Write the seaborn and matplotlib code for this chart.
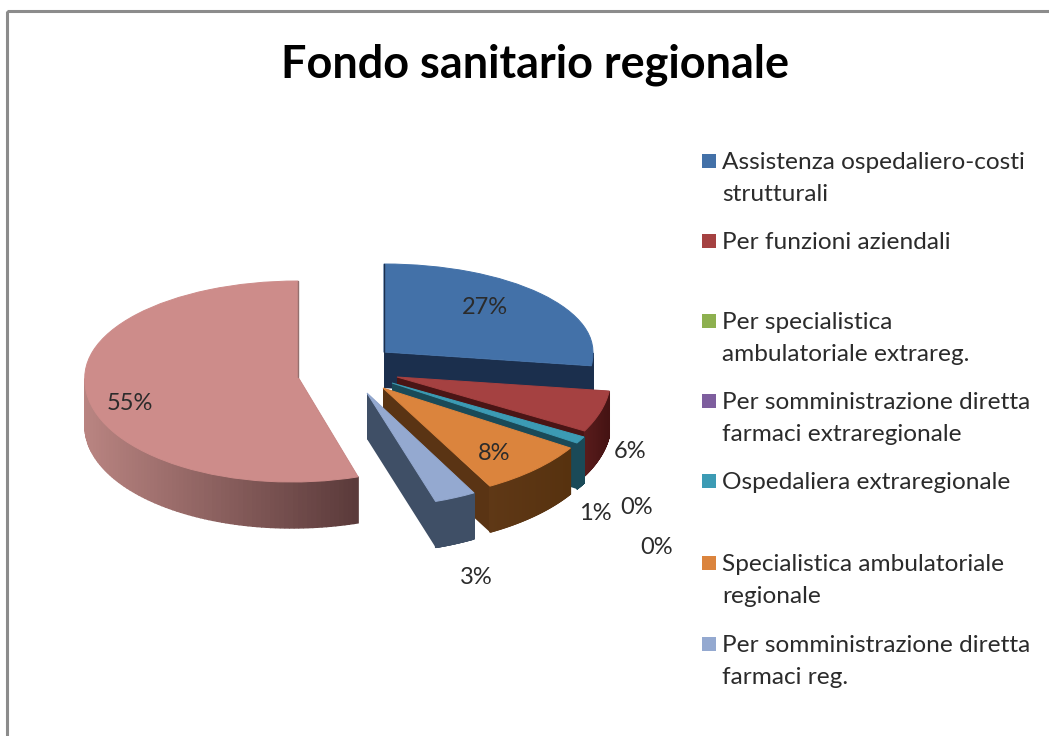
#!/usr/bin/env python
"""Fondo sanitario regionale: finta torta 3D esplosa."""

import numpy as np
import seaborn as sns
from matplotlib import pyplot as plt
from matplotlib import transforms as mtransforms
from matplotlib.patches import Rectangle

LEGEND_NAMES = [
    "Assistenza ospedaliero-costi\nstrutturali",
    "Per funzioni aziendali",
    "Per specialistica\nambulatoriale extrareg.",
    "Per somministrazione diretta\nfarmaci extraregionale",
    "Ospedaliera extraregionale",
    "Specialistica ambulatoriale\nregionale",
    "Per somministrazione diretta\nfarmaci reg.",
]
VALUES = [27, 6, 0, 0, 1, 8, 3, 55]
TITLE = "Fondo sanitario regionale"

TOP_COLORS = ["#4371A8", "#A54141", "#8DB04F", "#7E5E9E", "#3C9BB4", "#DB843D", "#94A9D0", "#CD8C8A"]
FACE_COLORS = ["#1B2F4D", "#4A1515", "#4A5E28", "#3F2E52", "#1A4A58", "#5A3414", "#3F4F66", "#6A4545"]
WALL_LEFT = ["#1B2F4D", "#5A1C1C", "#4A5E28", "#3F2E52", "#1A4A58", "#5F3816", "#3F4F66", "#B98481"]
WALL_RIGHT = ["#1B2F4D", "#451313", "#4A5E28", "#3F2E52", "#1A4A58", "#57320F", "#3F4F66", "#5A3A3A"]

# posizione di ogni fetta in pixel: apice x, apice y, rx, ry sopra, ry sotto, spessore, inclinazione
SLICE_GEOM = [
    (384, 352, 209, 88, 110, 36, 0),
    (397, 377, 214, 112, 112, 45, 0),
    (392, 383, 219, 112, 112, 46, 0),
    (392, 383, 219, 112, 112, 46, 0),
    (392, 383, 219, 112, 112, 46, 0),
    (383, 388, 222, 112, 112, 46, 0),
    (367, 393, 222, 114, 114, 46, 0),
    (298, 377, 213, 96, 105, 46, 6),
]
LABEL_POS = [
    (485, 307), (630, 452), (657, 547), (637, 507),
    (595, 514), (494, 453), (476, 578), (130, 403),
]
LEGEND_Y = [161, 241, 321, 401, 481, 563, 644]


class SliceProjection(mtransforms.Transform):
    """Schiaccia il cerchio unitario della torta sulla fetta in prospettiva."""

    input_dims = 2
    output_dims = 2

    def __init__(self, geom):
        super().__init__()
        self.geom = geom

    def transform_non_affine(self, values):
        cx, cy, rx, ry_up, ry_down, _, lean = self.geom
        values = np.asarray(values, dtype=float)
        lower = values[:, 1] <= 0
        scale = np.where(lower, ry_down, ry_up)
        x = cx + rx * values[:, 0] + np.where(lower, lean * values[:, 1], 0.0)
        return np.column_stack([x, cy - scale * values[:, 1]])


def arc_points(proj, angles):
    rad = np.deg2rad(angles)
    return proj.transform_non_affine(np.column_stack([np.cos(rad), np.sin(rad)]))


def draw_solid(ax, wedge, geom, face, wall_left, wall_right):
    proj = SliceProjection(geom)
    depth = geom[5]
    z = wedge.get_zorder()
    apex = proj.transform_non_affine(np.array([[0.0, 0.0]]))[0]

    # facce radiali
    for angle in (wedge.theta1, wedge.theta2):
        edge = arc_points(proj, np.array([angle]))[0]
        ax.fill(
            [apex[0], edge[0], edge[0], apex[0]],
            [apex[1], edge[1], edge[1] + depth, apex[1] + depth],
            color=face, lw=0, zorder=z,
        )

    # parete esterna a strisce, solo la parte rivolta verso chi guarda
    angles = np.linspace(wedge.theta1, wedge.theta2, 160)
    angles = angles[np.sin(np.deg2rad(angles)) <= 0]
    if len(angles) > 1:
        pts = arc_points(proj, angles)
        shades = sns.blend_palette([wall_left, wall_right], 96)
        x_min, x_max = pts[:, 0].min(), pts[:, 0].max()
        for a, b in zip(pts[:-1], pts[1:]):
            frac = ((a[0] + b[0]) / 2 - x_min) / max(x_max - x_min, 1)
            ax.fill(
                [a[0], b[0], b[0], a[0]],
                [a[1], b[1], b[1] + depth, a[1] + depth],
                color=shades[int(frac * 95)], lw=1.0, zorder=z,
            )

    wedge.set_transform(proj + ax.transData)
    wedge.set_edgecolor(wedge.get_facecolor())
    wedge.set_linewidth(0.7)
    wedge.set_zorder(z + 0.5)


sns.set_theme(style="white")
plt.rcParams["font.family"] = ["Lato", "DejaVu Sans"]

fig = plt.figure(figsize=(10.49, 7.36), dpi=100)
ax = fig.add_axes([0, 0, 1, 1])

wedges, _ = ax.pie(
    VALUES,
    colors=TOP_COLORS,
    startangle=90,
    counterclock=False,
    wedgeprops={"linewidth": 0},
)
ax.set_aspect("auto")
ax.set_xlim(0, 1049)
ax.set_ylim(736, 0)

for i, wedge in enumerate(wedges):
    wedge.set_zorder(2 + i)
    if VALUES[i] == 0:
        wedge.set_visible(False)
        continue
    draw_solid(ax, wedge, SLICE_GEOM[i], FACE_COLORS[i], WALL_LEFT[i], WALL_RIGHT[i])

# bordo sottile sul lato posteriore delle due fette grandi
for i, angle, shade in ((0, wedges[0].theta2, FACE_COLORS[0]), (7, wedges[7].theta1, "#94706E")):
    proj = SliceProjection(SLICE_GEOM[i])
    tip = arc_points(proj, np.array([angle]))[0]
    ax.plot([SLICE_GEOM[i][0], tip[0]], [SLICE_GEOM[i][1], tip[1]],
            color=shade, lw=1.0, zorder=12)

for value, (x, y) in zip(VALUES, LABEL_POS):
    ax.text(x, y, f"{value}%", ha="center", va="center", fontsize=17,
            color="#2b2b2b", zorder=20)

for name, color, y in zip(LEGEND_NAMES, TOP_COLORS, LEGEND_Y):
    ax.add_patch(Rectangle((702, y - 7), 14, 14, facecolor=color, edgecolor="none"))
    ax.text(722, y - 9, name, ha="left", va="top", fontsize=17.6,
            color="#2b2b2b", linespacing=1.63)

ax.text(535, 65, TITLE, ha="center", va="center", fontsize=32.4, fontweight="bold", color="black")

# cornice del grafico, tagliata a destra e in basso
ax.add_patch(Rectangle((7, 11), 1200, 900, fill=False, edgecolor="#8c8c8c", lw=2.2))

fig.savefig("out.png", dpi=100, facecolor="white")
